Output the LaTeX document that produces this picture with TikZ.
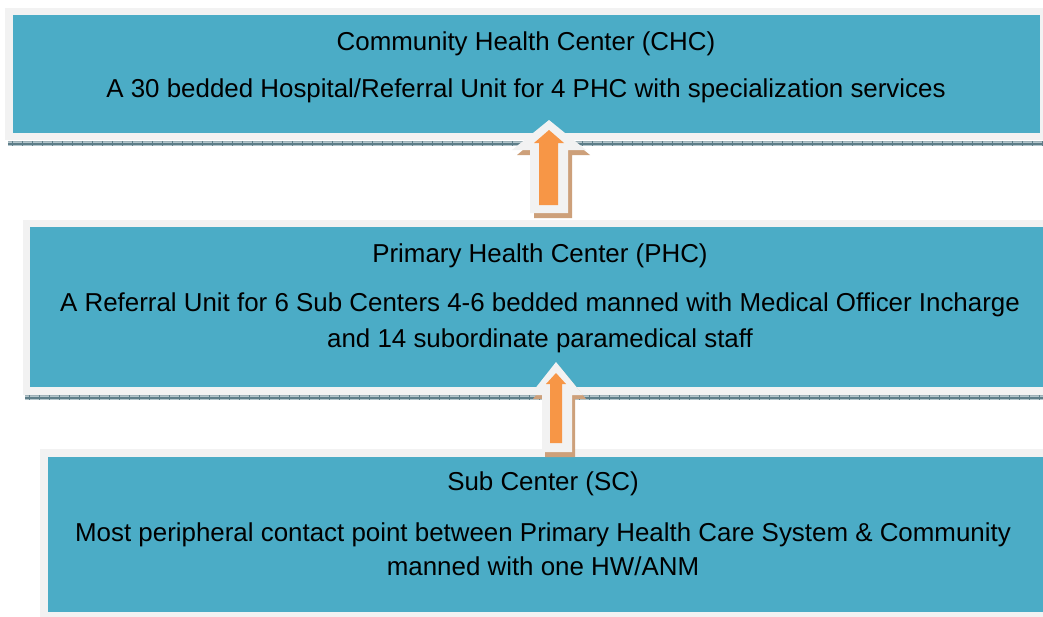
\documentclass[tikz,border=0pt]{standalone}
\usepackage{fontspec}
\setmainfont{Liberation Sans}
\definecolor{boxteal}{HTML}{4BACC6}
\definecolor{framegray}{HTML}{F2F2F2}
\definecolor{arroworange}{HTML}{F79646}
\definecolor{arrowshadow}{HTML}{CDA07A}
\definecolor{stripefill}{HTML}{B4C6CC}
\definecolor{stripeline}{HTML}{5E7E89}
\begin{document}
\begin{tikzpicture}[x=1pt,y=-1pt,
  frame/.style={fill=framegray, draw=none, inner sep=0pt, anchor=north west},
  panel/.style={fill=boxteal, draw=none, inner sep=0pt, anchor=north west},
  txt/.style={font=\fontsize{25.9}{30}\selectfont, text=black, inner sep=0pt, anchor=base},
  shade/.style={fill=arrowshadow, draw=none},
  halo/.style={fill=framegray, draw=none},
  uparrow/.style={fill=arroworange, draw=none}]
\useasboundingbox (0,0) rectangle (1043,616);
\fill[white] (0,0) rectangle (1043,616);

% ---- Community Health Center ----
\node[frame, minimum width=1043pt, minimum height=132pt] (chcframe) at (5,8) {};
\node[panel, minimum width=1027pt, minimum height=118pt] (chc) at (13,15) {};
% ---- Primary Health Center ----
\node[frame, minimum width=1025pt, minimum height=175pt] (phcframe) at (23,220) {};
\node[panel, minimum width=1020pt, minimum height=160pt] (phc) at (30,227) {};
% ---- Sub Center ----
\node[frame, minimum width=1008pt, minimum height=170pt] (scframe) at (40,449) {};
\node[panel, minimum width=995pt, minimum height=155pt] (sc) at (48,457) {};

% ---- ruled strips under the upper panels ----
\foreach \xa/\ya in {8/141, 25/395}{
  \fill[stripefill] (\xa,\ya) rectangle (1043,\ya+5);
  \draw[stripeline!60, line width=0.8pt] (\xa,\ya+0.5) -- (1043,\ya+0.5);
  \draw[stripeline, line width=1.2pt] (\xa,\ya+3) -- (1043,\ya+3);
  \foreach \t in {0,10,...,1040}{
    \pgfmathsetmacro{\tx}{\xa+4+\t}
    \ifdim\tx pt<1043pt
      \draw[stripeline, line width=0.8pt] (\tx,\ya) -- (\tx,\ya+5);
    \fi
  }
}

% ---- upward arrow between SC/PHC and PHC/CHC ----
% shadow, light halo, then the orange arrow
\fill[shade] (553,125) -- (590,155) -- (572,155) -- (572,218) -- (534,218) -- (534,155) -- (517,155) -- cycle;
\fill[halo] (549,120) -- (586,150) -- (568,150) -- (568,213) -- (530,213) -- (530,150) -- (512,150) -- cycle;
\fill[uparrow] (549,130) -- (564,143) -- (558,143) -- (558,205) -- (539,205) -- (539,143) -- (534,143) -- cycle;

\fill[shade] (559,366) -- (586,399) -- (575,399) -- (575,457) -- (545,457) -- (545,399) -- (533,399) -- cycle;
\fill[halo] (556,362) -- (583,395) -- (572,395) -- (572,452) -- (542,452) -- (542,395) -- (530,395) -- cycle;
\fill[uparrow] (556,373) -- (566,384) -- (562,384) -- (562,443) -- (550,443) -- (550,384) -- (546,384) -- cycle;

% ---- texts ----
\node[txt] (chctitle) at (526,50) {Community Health Center (CHC)};
\node[txt] (chcdesc) at (526,97) {A 30 bedded Hospital/Referral Unit for 4 PHC with specialization services};

\node[txt] (phctitle) at (540,262) {Primary Health Center (PHC)};
\node[txt] (phcdesca) at (540,311) {A Referral Unit for 6 Sub Centers 4-6 bedded manned with Medical Officer Incharge};
\node[txt] (phcdescb) at (540,347) {and 14 subordinate paramedical staff};

\node[txt] (sctitle) at (543,490) {Sub Center (SC)};
\node[txt] (scdesca) at (543,541) {Most peripheral contact point between Primary Health Care System \& Community};
\node[txt] (scdescb) at (543,575) {manned with one HW/ANM};
\end{tikzpicture}
\end{document}
